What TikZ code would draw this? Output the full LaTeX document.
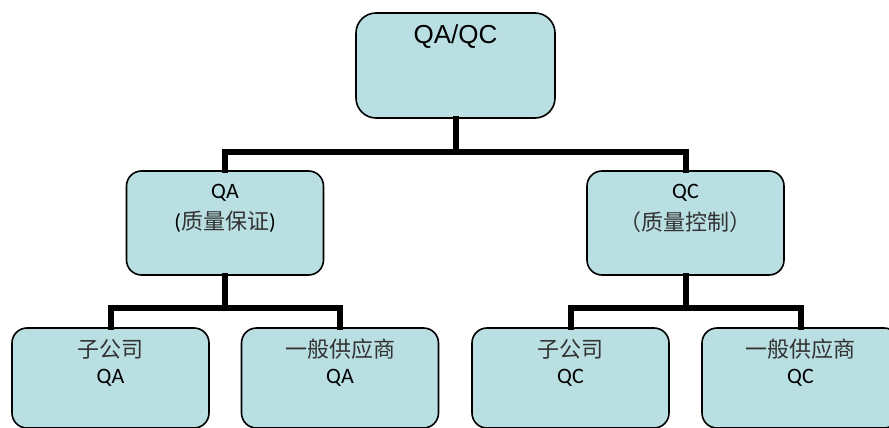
\documentclass[tikz,border=0pt]{standalone}
\usepackage{fontspec}
\setmainfont{Carlito}
\newfontfamily\arialf{Liberation Sans}
\newfontfamily\cjk{Noto Sans CJK SC}
\usetikzlibrary{calc}
\definecolor{boxfill}{RGB}{185,223,226}
\definecolor{cjkgray}{RGB}{50,50,50}
\begin{document}
\begin{tikzpicture}[x=1pt,y=-1pt,
  box/.style={draw=black,line width=1.6pt,fill=boxfill,rounded corners=15pt,
    minimum width=197pt,minimum height=#1,inner sep=0pt},
  box/.default=104pt,
  lbl/.style={anchor=center,inner sep=0pt,align=center,font=\fontsize{22}{29}\selectfont},
  conn/.style={line width=6pt,line cap=rect}]
\useasboundingbox (0,0) rectangle (889,428);
\clip (0,0) rectangle (889,428);
% boxes
\node[box=105pt,rounded corners=20pt,minimum width=199pt] (top) at (455.5,65.5) {};
\node[box] (qa) at (225,223) {};
\node[box] (qc) at (685.5,223) {};
\node[box=100pt] (b1) at (110.5,378) {};
\node[box=100pt] (b2) at (340,378) {};
\node[box=100pt] (b3) at (570.5,378) {};
\node[box=100pt] (b4) at (800.5,378) {};
% texts
\node[lbl,font=\arialf\fontsize{26}{30}\selectfont] (ttop) at (455.5,37) {QA/QC};
\node[lbl] (tqa1) at (225,193) {QA};
\node[lbl] (tqa2) at (225,222) {(\textcolor{cjkgray}{\cjk 质量保证})};
\node[lbl] (tqc1) at (685.5,193) {QC};
\node[lbl] (tqc2) at (685.5,222) {\textcolor{cjkgray}{\cjk （质量控制）}};
\node[lbl] (tb1a) at (110.5,349) {\textcolor{cjkgray}{\cjk 子公司}};
\node[lbl] (tb1b) at (110.5,378) {QA};
\node[lbl] (tb2a) at (340,349) {\textcolor{cjkgray}{\cjk 一般供应商}};
\node[lbl] (tb2b) at (340,378) {QA};
\node[lbl] (tb3a) at (570.5,349) {\textcolor{cjkgray}{\cjk 子公司}};
\node[lbl] (tb3b) at (570.5,378) {QC};
\node[lbl] (tb4a) at (800.5,349) {\textcolor{cjkgray}{\cjk 一般供应商}};
\node[lbl] (tb4b) at (800.5,378) {QC};
% buses
\coordinate (bus0) at (top.south |- 0,152);
\coordinate (bus1) at (qa.south |- 0,308);
\coordinate (bus2) at (qc.south |- 0,308);
% connectors
\draw[conn] (top.south) -- (bus0) -| (qa.north);
\draw[conn] (bus0) -| (qc.north);
\draw[conn] (qa.south) -- (bus1) -| (b1.north);
\draw[conn] (bus1) -| (b2.north);
\draw[conn] (qc.south) -- (bus2) -| (b3.north);
\draw[conn] (bus2) -| (b4.north);
\end{tikzpicture}
\end{document}
